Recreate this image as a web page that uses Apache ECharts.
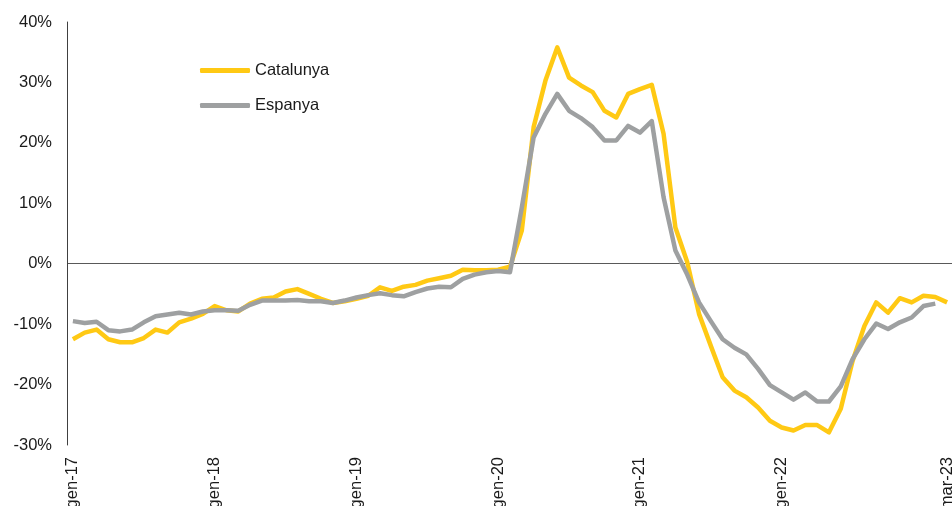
<!DOCTYPE html>
<html lang="ca">
<head>
<meta charset="UTF-8">
<title>Catalunya / Espanya</title>
<style>
  * { margin: 0; padding: 0; }
  body { background: #fff; }
  #chart { width: 952px; height: 506px; }
</style>
</head>
<body>
<div id="chart"></div>
<script src="https://cdn.jsdelivr.net/npm/echarts@6/dist/echarts.min.js"></script>
<script>
// mesos gen-17 .. mar-23
var monthNames = ['gen', 'feb', 'mar', 'abr', 'mai', 'jun', 'jul', 'ago', 'set', 'oct', 'nov', 'des'];
var years = ['17', '18', '19', '20', '21', '22', '23'];
var shownLabels = ['gen-17', 'gen-18', 'gen-19', 'gen-20', 'gen-21', 'gen-22', 'mar-23'];

var categories = [];
years.forEach(function (y) {
  monthNames.forEach(function (m) {
    if (categories.length < 75) categories.push(m + '-' + y);
  });
});

var catalunya = [
  -12.5, -11.4, -10.9, -12.5, -13.0, -13.0, -12.3, -10.9, -11.4, -9.7, -9.1, -8.3,
  -7.0, -7.7, -7.9, -6.6, -5.8, -5.6, -4.6, -4.2, -5.0, -5.8, -6.5, -6.2,
  -5.8, -5.3, -3.9, -4.5, -3.8, -3.5, -2.8, -2.4, -2.0, -1.0, -1.1, -1.1,
  -1.0, -0.5, 5.5, 22.6, 30.3, 35.8, 30.8, 29.5, 28.4, 25.3, 24.2, 28.1,
  28.9, 29.6, 21.5, 6.0, 0.3, -8.3, -13.6, -18.8, -21.0, -22.1, -23.8, -26.0,
  -27.1, -27.6, -26.7, -26.7, -27.9, -24.0, -16.1, -10.3, -6.4, -8.1, -5.7, -6.4,
  -5.3, -5.5, -6.4
];

var espanya = [
  -9.5, -9.8, -9.6, -11.0, -11.2, -10.9, -9.7, -8.7, -8.4, -8.1, -8.4, -7.9,
  -7.7, -7.7, -7.8, -6.8, -6.1, -6.1, -6.1, -6.0, -6.2, -6.2, -6.5, -6.1,
  -5.6, -5.2, -4.9, -5.2, -5.4, -4.7, -4.1, -3.8, -3.9, -2.5, -1.8, -1.4,
  -1.2, -1.4, 9.3, 20.9, 24.8, 28.1, 25.3, 24.1, 22.6, 20.4, 20.4, 22.8,
  21.7, 23.6, 11.0, 2.2, -1.8, -6.4, -9.5, -12.5, -13.9, -15.0, -17.4, -20.1,
  -21.3, -22.5, -21.3, -22.8, -22.8, -20.3, -15.8, -12.5, -9.9, -10.8, -9.7, -8.9,
  -7.0, -6.6, null
];

var font = "'Liberation Sans', Arial, sans-serif";
var txt = '#1a1a1a';

var myChart = echarts.init(document.getElementById('chart'));

myChart.setOption({
  animation: false,
  grid: { left: 67, top: 22, width: 886, height: 423, outerBoundsMode: 'none', containLabel: false },
  legend: {
    orient: 'vertical',
    left: 195,
    top: 57,
    itemWidth: 50,
    itemHeight: 5,
    itemGap: 18,
    icon: 'roundRect',
    textStyle: { fontFamily: font, fontSize: 16.5, color: txt, lineHeight: 16 },
    data: ['Catalunya', 'Espanya']
  },
  xAxis: {
    type: 'category',
    data: categories,
    boundaryGap: true,
    axisLine: { show: false },
    axisTick: { show: false },
    axisLabel: {
      rotate: 90,
      margin: 12,
      fontFamily: font,
      fontSize: 16.5,
      color: txt,
      interval: function (idx, val) { return shownLabels.indexOf(val) >= 0; }
    }
  },
  yAxis: {
    type: 'value',
    min: -30,
    max: 40,
    interval: 10,
    axisLine: { show: true, lineStyle: { color: '#404040', width: 1 } },
    axisTick: { show: false },
    axisLabel: {
      margin: 15,
      fontFamily: font,
      fontSize: 16.5,
      color: txt,
      formatter: '{value}%'
    },
    splitLine: {
      show: true,
      // only the 0% line is visible
      lineStyle: {
        width: 1,
        color: ['transparent', 'transparent', 'transparent', '#595959',
                'transparent', 'transparent', 'transparent', 'transparent']
      }
    }
  },
  series: [
    {
      name: 'Catalunya',
      type: 'line',
      data: catalunya,
      symbol: 'none',
      lineStyle: { color: '#FFC914', width: 4.5, join: 'round' },
      itemStyle: { color: '#FFC914' },
      z: 3
    },
    {
      name: 'Espanya',
      type: 'line',
      data: espanya,
      symbol: 'none',
      lineStyle: { color: '#9EA0A1', width: 4.5, join: 'round' },
      itemStyle: { color: '#9EA0A1' },
      z: 4
    }
  ]
});
</script>
</body>
</html>
